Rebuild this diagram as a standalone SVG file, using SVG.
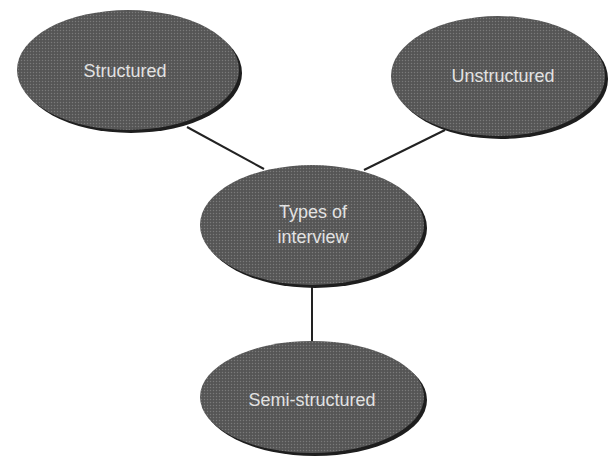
<svg xmlns="http://www.w3.org/2000/svg" width="611" height="461" viewBox="0 0 611 461">
  <defs>
    <pattern id="dots" width="3" height="3" patternUnits="userSpaceOnUse">
      <rect width="3" height="3" fill="#5a5a5a"/>
      <rect x="0" y="0" width="1" height="1" fill="#7a7a7a"/>
      <rect x="1.5" y="1.5" width="1" height="1" fill="#444"/>
    </pattern>
  </defs>
  <style>
    .shadow { fill: #1e1e1e; }
    .node { fill: url(#dots); }
    .label { font-family: "Liberation Sans", Arial, sans-serif; font-size: 18px; fill: #e2e2e2; text-anchor: middle; }
    .edge { stroke: #222; stroke-width: 2; fill: none; }
  </style>
  <rect width="611" height="461" fill="#ffffff"/>
  <g id="connectors">
    <line class="edge" x1="187" y1="127" x2="264" y2="169"/>
    <line class="edge" x1="445" y1="130" x2="364" y2="170"/>
    <line class="edge" x1="312" y1="284" x2="312" y2="342"/>
  </g>
  <g id="structured">
    <ellipse class="shadow" cx="131" cy="73" rx="111" ry="60"/>
    <ellipse class="node" cx="128" cy="70" rx="111" ry="60"/>
    <text class="label" x="125" y="77">Structured</text>
  </g>
  <g id="unstructured">
    <ellipse class="shadow" cx="501" cy="79" rx="107" ry="60"/>
    <ellipse class="node" cx="498" cy="76" rx="107" ry="60"/>
    <text class="label" x="503" y="82">Unstructured</text>
  </g>
  <g id="types">
    <ellipse class="shadow" cx="315" cy="228" rx="112" ry="60"/>
    <ellipse class="node" cx="312" cy="225" rx="112" ry="60"/>
    <text class="label" x="313" y="218">Types of</text>
    <text class="label" x="313" y="243">interview</text>
  </g>
  <g id="semi">
    <ellipse class="shadow" cx="315" cy="400" rx="112" ry="56"/>
    <ellipse class="node" cx="312" cy="397" rx="112" ry="56"/>
    <text class="label" x="312" y="406">Semi-structured</text>
  </g>
</svg>
